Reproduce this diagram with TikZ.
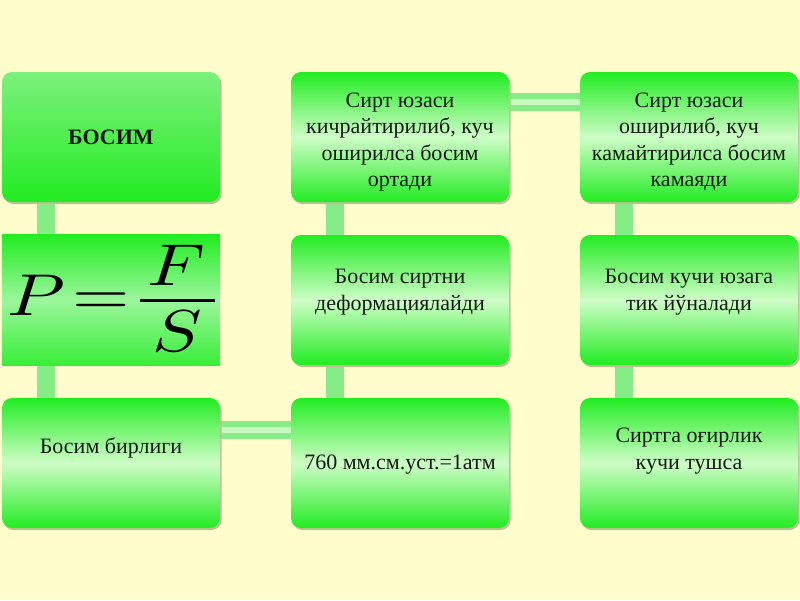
\documentclass[tikz,border=0pt]{standalone}
\usepackage{fontspec}
\setmainfont{Liberation Serif}
\usetikzlibrary{calc}
\pgfdeclarelayer{bg}
\pgfdeclarelayer{background}
\pgfsetlayers{bg,background,main}
\definecolor{bgc}{HTML}{FFFDCC}
\definecolor{gtop}{HTML}{22EC22}
\definecolor{gmid}{HTML}{CFFDC8}
\definecolor{gtoplight}{HTML}{7CF07C}
\definecolor{barc}{HTML}{86EC86}
\definecolor{barl}{HTML}{C8F8C0}
\definecolor{txt}{HTML}{141A14}
\tikzset{
  box/.style={rounded corners=10pt, minimum width=218pt, minimum height=130pt, inner sep=0pt,
    top color=gtop, bottom color=gtop, middle color=gmid, draw=none},
  boxlight/.style={box, top color=gtoplight},
  fbox/.style={minimum width=218pt, minimum height=131pt, inner sep=0pt,
    top color=gtop, bottom color=gtop!90!white, middle color=gtop!45!white, draw=none},
  shadowbox/.style={rounded corners=10pt, minimum width=218pt, minimum height=130pt, fill=black!25!bgc, draw=none},
  lbl/.style={align=center, text=txt, font=\fontsize{22}{26.5}\selectfont},
  fglyph/.style={inner sep=0pt, xscale=7.4, yscale=5.9, text=black},
  vbar/.style={line width=18pt, draw=barc},
  hbar/.style={line width=18pt, draw=barc},
  hbarin/.style={line width=6pt, draw=barl},
}
\begin{document}
\begin{tikzpicture}[x=1pt,y=-1pt]
\begin{pgfonlayer}{bg}
\fill[bgc] (0,0) rectangle (800,600);
\end{pgfonlayer}
\useasboundingbox (0,0) rectangle (800,600);
% shadows
\foreach \x/\y in {111/137, 400/137, 689/137, 400/300, 689/300, 111/463, 400/463, 689/463}
  \node[shadowbox] at (\x+1.5,\y+2) {};
% boxes
\node[boxlight] (b11) at (111,137) {};
\node[box] (b12) at (400,137) {};
\node[box] (b13) at (689,137) {};
\node[fbox] (b21) at (111,300) {};
\node[box] (b22) at (400,300) {};
\node[box] (b23) at (689,300) {};
\node[box] (b31) at (111,463) {};
\node[box] (b32) at (400,463) {};
\node[box] (b33) at (689,463) {};
% connectors
\begin{pgfonlayer}{background}
\draw[vbar] ([xshift=-65pt]b11.south) -- ([xshift=-65pt]b21.north);
\draw[vbar] ([xshift=-65pt]b21.south) -- ([xshift=-65pt]b31.north);
\draw[vbar] ([xshift=-65pt]b12.south) -- ([xshift=-65pt]b22.north);
\draw[vbar] ([xshift=-65pt]b22.south) -- ([xshift=-65pt]b32.north);
\draw[vbar] ([xshift=-65pt]b13.south) -- ([xshift=-65pt]b23.north);
\draw[vbar] ([xshift=-65pt]b23.south) -- ([xshift=-65pt]b33.north);
\draw[hbar] ([yshift=35pt]b12.east) -- ([yshift=35pt]b13.west);
\draw[hbarin] ([yshift=35pt]b12.east) -- ([yshift=35pt]b13.west);
\draw[hbar] ([yshift=33pt]b31.east) -- ([yshift=33pt]b32.west);
\draw[hbarin] ([yshift=33pt]b31.east) -- ([yshift=33pt]b32.west);
\end{pgfonlayer}
% texts
\node[lbl, font=\fontsize{22}{26.5}\selectfont\bfseries] (t11) at (111,137) {БОСИМ};
\node[lbl] (t12) at (400,142) {Сирт юзаси\\кичрайтирилиб, куч\\оширилса босим\\ортади};
\node[lbl] (t13) at (689,142) {Сирт юзаси\\оширилиб, куч\\камайтирилса босим\\камаяди};
% formula
\node[fglyph, anchor=base west] (fP) at (6,315) {$P$};
\node[fglyph, anchor=base] (feq) at (101,314) {$=$};
\node[fglyph, anchor=base] (fF) at (176,285) {$F$};
\node[fglyph, anchor=base] (fS) at (177,351) {$S$};
\draw[line width=3pt, black] (140,300) -- (215,300);
\node[lbl] (t22) at (400,292) {Босим сиртни\\деформациялайди};
\node[lbl] (t23) at (689,292) {Босим кучи юзага\\тик йўналади};
\node[lbl] (t31) at (111,448) {Босим бирлиги};
\node[lbl] (t32) at (400,465) {760 мм.см.уст.=1атм};
\node[lbl] (t33) at (689,451) {Сиртга оғирлик\\кучи тушса};
\end{tikzpicture}
\end{document}
